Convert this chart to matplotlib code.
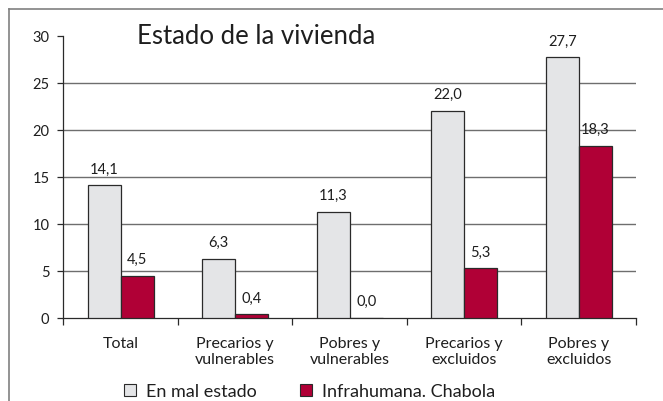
import numpy as np
import matplotlib
matplotlib.use("Agg")
import matplotlib.pyplot as plt
from matplotlib.patches import Rectangle

plt.rcParams["font.family"] = ["Lato", "DejaVu Sans"]

# ---- datos ----
categorias = ["Total", "Precarios y\nvulnerables", "Pobres y\nvulnerables",
              "Precarios y\nexcluidos", "Pobres y\nexcluidos"]
mal_estado = [14.1, 6.3, 11.3, 22.0, 27.7]
infrahumana = [4.5, 0.4, 0.0, 5.3, 18.3]
series_nombres = ["En mal estado", "Infrahumana. Chabola"]
y_ticks = [0, 5, 10, 15, 20, 25, 30]

GRIS = "#e4e5e7"
ROJO = "#b00036"
BORDE = "#2a2a2a"
LINEA = "#6e6e6e"
TEXTO = "#1e1e1e"

fig = plt.figure(figsize=(6.63, 4.02), dpi=100)
ax = fig.add_axes([0.0956, 0.2065, 0.8637, 0.7022])

x = np.arange(len(categorias))
w = 0.288
b1 = ax.bar(x - w / 2, mal_estado, w, color=GRIS, edgecolor=BORDE, linewidth=0.9, zorder=3)
b2 = ax.bar(x + w / 2, infrahumana, w, color=ROJO, edgecolor=BORDE, linewidth=0.9, zorder=3)

def fmt(v):
    return f"{v:.1f}".replace(".", ",")

for barras, vals in ((b1, mal_estado), (b2, infrahumana)):
    for r, v in zip(barras, vals):
        ax.annotate(fmt(v), (r.get_x() + r.get_width() / 2, v),
                    xytext=(0, 12), textcoords="offset points",
                    ha="center", va="center", fontsize=10.5, color=TEXTO)

ax.set_xlim(-0.5, len(categorias) - 0.5)
ax.set_ylim(0, 30)

# lineas de cuadricula (sin la de 30)
for t in y_ticks[1:-1]:
    ax.axhline(t, color=LINEA, linewidth=1.0, zorder=1)

ax.set_yticks(y_ticks)
ax.set_yticklabels([str(t) for t in y_ticks], fontsize=10.5, color=TEXTO)
ax.tick_params(axis="y", length=4, width=0.9, color=BORDE, pad=6)

ax.set_xticks(x)
ax.set_xticklabels(categorias, fontsize=11.5, color=TEXTO, linespacing=1.2)
ax.set_xticks(np.arange(-0.5, len(categorias)), minor=True)
ax.tick_params(axis="x", which="major", length=0, pad=13)
ax.tick_params(axis="x", which="minor", length=5, width=0.9, color=BORDE)

for s in ("top", "right"):
    ax.spines[s].set_visible(False)
for s in ("left", "bottom"):
    ax.spines[s].set_color(BORDE)
    ax.spines[s].set_linewidth(0.9)

ax.text(0.128, 1.0, "Estado de la vivienda", transform=ax.transAxes,
        fontsize=18.5, color=TEXTO, ha="left", va="center")

# marco exterior (solo arriba e izquierda)
fig.add_artist(plt.Line2D([0.0136, 1.0], [0.975, 0.975], transform=fig.transFigure,
                          color="#808080", linewidth=1.2))
fig.add_artist(plt.Line2D([0.0136, 0.0136], [0.0, 0.975], transform=fig.transFigure,
                          color="#808080", linewidth=1.2))

handles = [Rectangle((0, 0), 1, 1, facecolor=GRIS, edgecolor=BORDE, linewidth=0.8),
           Rectangle((0, 0), 1, 1, facecolor=ROJO, edgecolor=BORDE, linewidth=0.8)]
fig.legend(handles, series_nombres, loc="center", bbox_to_anchor=(0.467, 0.025),
           ncol=2, frameon=False, fontsize=13, handlelength=0.65, handleheight=0.65,
           handletextpad=0.55, columnspacing=2.4, borderpad=0, labelcolor=TEXTO)

fig.savefig("out.png", dpi=100)
